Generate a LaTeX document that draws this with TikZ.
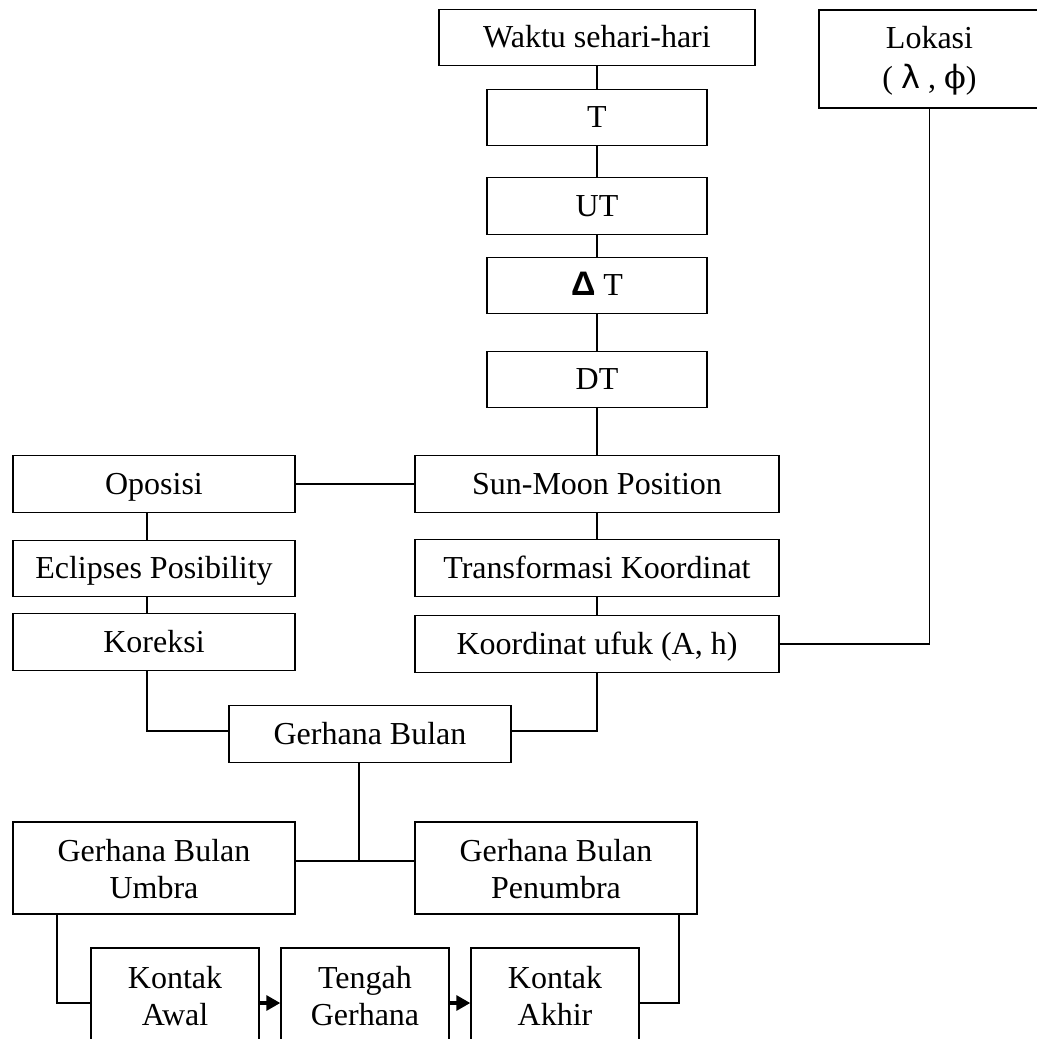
\documentclass[tikz,border=0pt]{standalone}
\usepackage{fontspec}
\setmainfont{Liberation Serif}
\newfontfamily\deltafont{Liberation Sans}
\newfontfamily\yunanisans{DejaVu Sans}
\newfontfamily\yunaniserif{DejaVu Serif}
\usetikzlibrary{arrows.meta}

\begin{document}
\begin{tikzpicture}[x=0.5pt, y=-0.5pt, line width=0.7pt,
  kotak/.style={draw, inner sep=0pt, minimum height=28.25pt, align=center,
    text height=10pt, text depth=0pt, font=\fontsize{16pt}{18.5pt}\selectfont},
  kotakdua/.style={kotak, minimum height=46pt, text height=30pt, text depth=0pt},
  panah/.style={-{Triangle[length=7pt,width=7.5pt]}, line width=1.6pt}]
\path[use as bounding box, clip] (0,0) rectangle (1037,1039);
\node[kotak, minimum width=158pt] (waktu) at (597,37.5) {Waktu sehari-hari};
\node[kotak, minimum width=110pt] (t) at (597,117.5) {T};
\node[kotak, minimum width=110pt] (ut) at (597,206) {UT};
\node[kotak, minimum width=110pt] (dt) at (597,285.5) {{\deltafont\bfseries\fontsize{17pt}{18.5pt}\selectfont Δ} T};
\node[kotak, minimum width=110pt] (tdin) at (597,379.5) {DT};
\node[kotak, minimum width=110.5pt, minimum height=49pt, text height=29pt] (lokasi) at (929.5,59) {Lokasi\\[1.5pt]( {\yunanisans λ} , {\yunaniserif ϕ})};
\node[kotak, minimum width=182pt] (posisi) at (597,484) {Sun-Moon Position};
\node[kotak, minimum width=182pt] (transf) at (597,568) {Transformasi Koordinat};
\node[kotak, minimum width=182pt] (ufuk) at (597,644) {Koordinat ufuk (A, h)};
\node[kotak, minimum width=141pt] (oposisi) at (154,484) {Oposisi};
\node[kotak, minimum width=141pt] (peluang) at (154,568.5) {Eclipses Posibility};
\node[kotak, minimum width=141pt] (koreksi) at (154,642) {Koreksi};
\node[kotak, minimum width=141pt] (gerhana) at (370,734) {Gerhana Bulan};
\node[kotakdua, minimum width=141pt] (umbra) at (154,868) {Gerhana Bulan\\Umbra};
\node[kotakdua, minimum width=141pt] (penumbra) at (556,868) {Gerhana Bulan\\Penumbra};
\node[kotakdua, minimum width=84pt, text height=31pt] (awal) at (175,994) {Kontak\\Awal};
\node[kotakdua, minimum width=84pt, text height=31pt] (tengah) at (365,994) {Tengah\\Gerhana};
\node[kotakdua, minimum width=84pt, text height=31pt] (akhir) at (555,994) {Kontak\\Akhir};
\coordinate (cabang) at (359,861);

\draw (waktu) -- (t) -- (ut) -- (dt) -- (tdin) -- (posisi) -- (transf) -- (ufuk);
\draw (oposisi) -- (posisi);
\draw ([xshift=-3.5pt]oposisi.south) -- ([xshift=-3.5pt]peluang.north);
\draw ([xshift=-3.5pt]peluang.south) -- ([xshift=-3.5pt]koreksi.north);
\draw ([xshift=-3.5pt]koreksi.south) |- ([yshift=1.5pt]gerhana.west);
\draw (ufuk.south) |- ([yshift=1.5pt]gerhana.east);
\draw (lokasi.south) |- (ufuk.east);
\draw (gerhana.south -| cabang) -- (cabang);
\draw (umbra.east |- cabang) -- (penumbra.west |- cabang);
\draw ([xshift=-48.5pt]umbra.south) |- ([yshift=-4.5pt]awal.west);
\draw[panah] ([yshift=-4.5pt]awal.east) -- ([yshift=-4.5pt]tengah.west);
\draw[panah] ([yshift=-4.5pt]tengah.east) -- ([yshift=-4.5pt]akhir.west);
\draw ([xshift=61.5pt]penumbra.south) |- ([yshift=-4.5pt]akhir.east);
\end{tikzpicture}
\end{document}
